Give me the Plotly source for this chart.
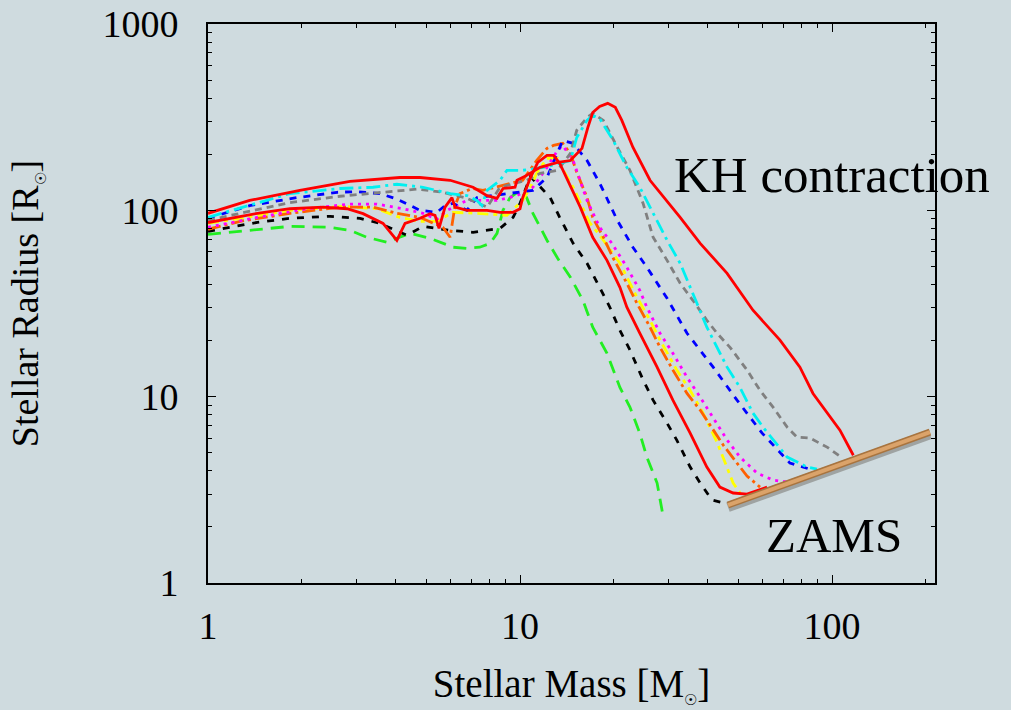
import plotly.graph_objects as go

# Axis ticks
x_tickvals = [1, 10, 100]
x_ticktext = ["1", "10", "100"]
y_tickvals = [1, 10, 100, 1000]
y_ticktext = ["1", "10", "100", "1000"]
x_minorvals = [2, 3, 4, 5, 6, 7, 8, 9, 20, 30, 40, 50, 60, 70, 80, 90, 200]
y_minorvals = [2, 3, 4, 5, 6, 7, 8, 9, 20, 30, 40, 50, 60, 70, 80, 90,
               200, 300, 400, 500, 600, 700, 800, 900]

# Protostellar evolution tracks: stellar mass [Msun] vs stellar radius [Rsun]
red_hi_m = [1, 1.36, 1.97, 2.85, 4.12, 4.78, 5.97, 7.07, 7.84, 8.44, 8.82, 9.64, 9.78, 10.5, 11.6,
            13.2, 14.5, 15.8, 16.5, 17.1, 18.0, 19.1, 20.2, 21.2, 23.0, 26.1, 32.6, 37.8, 46.1,
            55.8, 68.1, 78.9, 86.9, 96.4, 106, 117]
red_hi_r = [96.4, 113, 128, 143, 150, 150, 145, 133, 120, 116, 131, 133, 145, 154, 170,
            181, 185, 215, 279, 335, 361, 375, 357, 304, 218, 145, 91.6, 66.5, 45.9,
            29.1, 20.1, 14.4, 10.4, 8.16, 6.61, 4.85]

cyan_m = [1, 1.44, 1.83, 2.65, 3.38, 4.03, 4.89, 5.97, 6.76, 7.28, 7.55, 7.84, 8.63, 9.08, 10.2,
          11.9, 13.4, 14.5, 15.2, 16.4, 17.1, 18.0, 19.9, 22.0, 24.2, 26.1, 27.5, 29.6, 32.6,
          34.3, 36.9, 39.7, 42.8, 46.1, 50.7, 55.8, 60.1, 64.7, 71.8, 83.2, 89.5]
cyan_r = [91.7, 109, 123, 131, 133, 138, 133, 123, 120, 113, 106, 128, 145, 164, 164,
          170, 179, 185, 246, 304, 323, 311, 237, 170, 133, 104, 88.4, 69.1, 52,
          42.1, 31.7, 23.6, 18.4, 14.4, 11.2, 8.16, 6.86, 5.85, 4.74, 4.19, 4.08]

gray_m = [1, 1.27, 1.83, 2.65, 3.83, 4.68, 5.66, 6.76, 7.84, 8.63, 10.5, 11.6, 13.2, 14.5, 15.2,
          16.4, 17.1, 18.5, 20.5, 22.5, 24.8, 26.7, 29.6, 32.6, 35.8, 39.7, 42.8, 47.1, 53.4,
          58.8, 64.7, 71.8, 77.2, 85, 96.4, 108]
gray_r = [88.4, 96.4, 110, 119, 126, 130, 125, 116, 104, 133, 145, 158, 164, 202, 269,
          315, 331, 304, 218, 164, 109, 71.7, 53.9, 40.6, 32.9, 25.7, 21.9, 18.4, 13.9,
          10.8, 8.79, 6.86, 6.06, 5.99, 5.36, 4.68]

blue_m = [1, 1.36, 1.93, 2.59, 3.0, 3.56, 4.03, 4.78, 5.42, 5.75, 6.1, 6.76, 7.28, 9.29, 11.0,
          12.2, 13.2, 13.7, 14.8, 16.4, 18.0, 20.5, 23.0, 25.5, 29.6, 34.3, 41.6, 49.6, 59.7,
          73.3, 85]
blue_r = [90.6, 106, 117, 125, 126, 123, 115, 100, 97.6, 106, 109, 100, 117, 123, 128,
          150, 202, 237, 229, 185, 140, 88.4, 63.4, 49.5, 33.7, 21.9, 14.4, 9.58, 6.37,
          4.4, 4.08]

magenta_m = [1, 1.44, 2.08, 2.85, 3.48, 4.22, 4.89, 5.42, 5.84, 6.76, 8.44, 9.78, 11.0, 12.2, 13.2,
             13.7, 14.8, 16.4, 18.0, 19.7, 22.0, 24.2, 25.5, 28.1, 30.9, 34.3, 37.8, 41.6, 46.1,
             50.7, 57.5, 64.7, 71.8]
magenta_r = [81.1, 91.6, 102, 108, 108, 102, 96.4, 89.5, 100, 113, 113, 120, 133, 170, 210,
             223, 185, 113, 81.1, 66.5, 49.5, 37.2, 30.2, 21.9, 17.1, 12.7, 9.94, 7.76, 5.85,
             4.74, 3.89, 3.57, 3.48]

orange_m = [1, 1.27, 1.83, 2.65, 3.38, 4.03, 4.78, 5.66, 5.97, 6.19, 6.42, 7.02, 7.6, 10.2, 11.3,
            12.2, 12.8, 13.7, 14.5, 15.2, 16.4, 17.1, 18.5, 19.9, 22.0, 23.7, 26.1, 28.1, 30.9,
            34.3, 37.8, 41.6, 44.8, 49.6, 53.4, 58.8]
orange_r = [79.1, 87.3, 96.4, 104, 104, 96.4, 91.6, 81.1, 71.7, 106, 123, 131, 128, 145, 185,
            215, 223, 229, 202, 160, 117, 91.6, 71.7, 55.3, 40.6, 31.7, 23.6, 18.4, 13.9,
            10.4, 8.47, 6.61, 5.5, 4.4, 3.75, 3.27]

yellow_m = [1, 1.44, 1.83, 2.71, 3.48, 4.12, 4.78, 5.42, 6.1, 7.28, 9.08, 10.2, 10.8, 11.3, 12.2,
            13.2, 13.6, 14.8, 15.6, 16.7, 18.5, 20.9, 23.7, 26.1, 28.1, 31.8, 35.1, 38.6, 42.8,
            46.1, 48.2, 50.7]
yellow_r = [85, 94, 100, 105, 102, 91.6, 87.3, 87.3, 97.6, 96.4, 94, 113, 133, 158, 190,
            190, 170, 133, 110, 86.2, 69.1, 52, 34.2, 25.7, 20.1, 13.9, 10.8, 8.16, 5.7,
            4.19, 3.44, 3.04]

red_lo_m = [1, 1.44, 1.83, 2.34, 2.79, 3.14, 3.64, 4.03, 4.28, 4.78, 5.15, 5.34, 5.5, 5.75, 6.05,
            6.19, 6.76, 7.84, 8.63, 9.5, 10, 10.2, 10.8, 11.4, 12.2, 12.8, 13.4, 14.2, 15.6,
            17.1, 19.0, 20.9, 22.0, 24.2, 27.5, 30.9, 35.1, 39.7, 43.7, 48.2, 53.4, 61.9]
red_lo_r = [86, 96.4, 102, 104, 102, 96, 85, 69, 85, 90.6, 96, 93.9, 80, 104, 117,
            104, 100, 100, 97.6, 97.6, 102, 117, 150, 181, 197, 197, 179, 145, 104,
            71.7, 53.9, 38.6, 30.2, 21.9, 14.4, 9.58, 6.37, 4.19, 3.27, 3.04, 3.0, 3.27]

black_m = [1, 1.44, 1.83, 2.46, 3.07, 3.56, 4.34, 4.89, 5.97, 7.07, 8.63, 9.5, 10, 10.5, 10.8,
           12.5, 13.4, 14.8, 16.4, 18.0, 19.4, 20.9, 22.5, 24.8, 26.7, 29.6, 31.8, 35.1, 37.8,
           41.2, 44.8]
black_r = [77.2, 86.2, 90.6, 92.9, 90.6, 85, 73.5, 82, 78.1, 76.2, 80, 91.6, 109, 133, 152,
           117, 91.7, 66.5, 52, 38.6, 30.2, 22.7, 17.8, 12.3, 9.58, 7.21, 5.85, 4.19, 3.44,
           2.79, 2.69]

green_m = [1, 1.33, 1.83, 2.46, 2.85, 3.23, 3.75, 4.03, 4.44, 5.15, 6.1, 6.76, 7.43, 8.02, 8.44,
           8.82, 9.29, 10, 10.5, 11.0, 12.2, 13.2, 14.5, 15.9, 17.1, 19.0, 20.9, 22.5, 24.2,
           25.5, 27.5, 28.7]
green_r = [74.3, 78.1, 82, 81.1, 78.1, 71.7, 67.3, 70.8, 75.3, 70.8, 63.4, 62.5, 63.4, 66.5, 75.3,
           100, 117, 128, 117, 96.4, 69.1, 55.3, 43.7, 32.9, 23.6, 17.1, 11.2, 8.79, 6.37,
           4.74, 3.44, 2.32]

# Zero-age main sequence
zams_m = [46.4, 206]
zams_r = [2.62, 6.45]

SERIF = "Liberation Serif, Times New Roman, serif"
BG = "#cfdbdf"
X_RANGE = [0, 2.33]
Y_RANGE = [0, 3]
SUN = '<sub><span style="font-size:15px">☉</span></sub>'

fig = go.Figure()

tracks = [
    (green_m, green_r, "#22ee22", "13px,8px"),
    (black_m, black_r, "#000000", "7px,8px"),
    (yellow_m, yellow_r, "#ffff00", "11px,5px,4px,5px"),
    (orange_m, orange_r, "#ff6000", "13px,4px,3px,4px"),
    (magenta_m, magenta_r, "#ff00ff", "3px,5px"),
    (blue_m, blue_r, "#0000ff", "7px,7px"),
    (gray_m, gray_r, "#808080", "7px,5px"),
    (cyan_m, cyan_r, "#00f0f0", "14px,5px,3px,5px"),
    (red_lo_m, red_lo_r, "#ff0000", "solid"),
    (red_hi_m, red_hi_r, "#ff0000", "solid"),
]
for m, r, c, d in tracks:
    fig.add_trace(go.Scatter(x=m, y=r, mode="lines",
                             line=dict(color=c, width=2.8, dash=d),
                             hoverinfo="skip", showlegend=False))

# ZAMS bar with a soft shadow underneath
fig.add_trace(go.Scatter(x=zams_m, y=[v * 0.975 for v in zams_r], mode="lines",
                         line=dict(color="rgba(70,60,50,0.35)", width=10),
                         hoverinfo="skip", showlegend=False))
fig.add_trace(go.Scatter(x=zams_m, y=zams_r, mode="lines",
                         line=dict(color="#a8743f", width=7),
                         hoverinfo="skip", showlegend=False))
fig.add_trace(go.Scatter(x=zams_m, y=zams_r, mode="lines",
                         line=dict(color="#dba36a", width=4),
                         hoverinfo="skip", showlegend=False))

# Invisible trace so the top/right frame axes are drawn
fig.add_trace(go.Scatter(x=[2], y=[2], xaxis="x2", yaxis="y2", mode="markers",
                         marker=dict(opacity=0), hoverinfo="skip", showlegend=False))


def axis_style(rng, major, minor):
    return dict(
        type="log", range=rng, showgrid=False, zeroline=False,
        showline=True, linecolor="black", linewidth=2,
        tickmode="array", tickvals=major,
        ticks="inside", ticklen=8, tickwidth=1.3, tickcolor="black",
        minor=dict(tickmode="array", tickvals=minor, ticks="inside",
                   ticklen=4, tickwidth=1.1, tickcolor="black", showgrid=False),
    )


fig.update_layout(
    xaxis=dict(
        **axis_style(X_RANGE, x_tickvals, x_minorvals),
        ticktext=x_ticktext,
        tickfont=dict(family=SERIF, size=38, color="black"),
        ticklabelstandoff=8,
        title=dict(text="Stellar Mass [M" + SUN + "]", standoff=24,
                   font=dict(family=SERIF, size=39, color="black")),
    ),
    yaxis=dict(
        **axis_style(Y_RANGE, y_tickvals, y_minorvals),
        ticktext=y_ticktext,
        tickfont=dict(family=SERIF, size=38, color="black"),
        ticklabelstandoff=20,
        title=dict(text="Stellar Radius [R" + SUN + "]", standoff=52,
                   font=dict(family=SERIF, size=38, color="black")),
    ),
    xaxis2=dict(**axis_style(X_RANGE, x_tickvals, x_minorvals),
                overlaying="x", side="top", anchor="y2", showticklabels=False),
    yaxis2=dict(**axis_style(Y_RANGE, y_tickvals, y_minorvals),
                overlaying="y", side="right", anchor="x2", showticklabels=False),
)

fig.add_annotation(x=2.0, y=2.188, xref="x", yref="y", text="KH contraction",
                   showarrow=False, xanchor="center", yanchor="middle",
                   font=dict(family=SERIF, size=51, color="black"))
fig.add_annotation(x=2.006, y=0.257, xref="x", yref="y", text="ZAMS",
                   showarrow=False, xanchor="center", yanchor="middle",
                   font=dict(family=SERIF, size=49, color="black"))

fig.update_layout(
    width=1011, height=710,
    margin=dict(l=208, r=76, t=24, b=127, autoexpand=False),
    paper_bgcolor=BG, plot_bgcolor=BG,
    showlegend=False,
)

fig.write_html("out.html", include_plotlyjs=True, full_html=True,
               config={"displayModeBar": False})
